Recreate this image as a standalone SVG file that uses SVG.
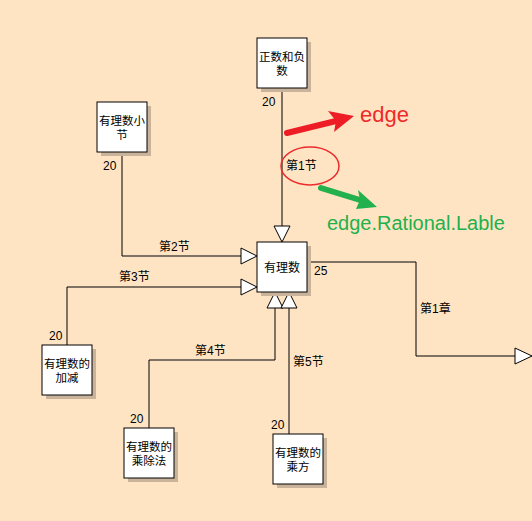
<svg xmlns="http://www.w3.org/2000/svg" width="532" height="521" viewBox="0 0 532 521">
<style>
.bg{fill:#FFE4C4}
.sh{fill:#C9B49B}
.box{fill:#fff;stroke:#000;stroke-width:1}
text{font-family:"Liberation Sans","Noto Sans CJK SC",sans-serif;font-size:12px;fill:#000}
.c{text-anchor:middle}
.n{font-size:11.5px}
.e{fill:none;stroke:#000;stroke-width:1}
.ah{fill:#fff;stroke:#000;stroke-width:1}
</style>
<rect class="bg" x="0" y="0" width="532" height="521"/>
<g id="connectors">
  <path class="e" d="M282,88 V226"/>
  <polygon class="ah" points="282,242 274,226 290,226"/>
  <text x="262" y="106">20</text>
  <text x="286" y="170">第1节</text>

  <path class="e" d="M122,152 V256 H241"/>
  <polygon class="ah" points="257,256 241,248 241,264"/>
  <text x="103" y="170">20</text>
  <text x="159" y="251">第2节</text>

  <path class="e" d="M67,345 V287 H241"/>
  <polygon class="ah" points="257,287 241,279 241,295"/>
  <text x="49" y="340">20</text>
  <text x="119" y="281">第3节</text>

  <path class="e" d="M149,428 V360 H275 V308"/>
  <polygon class="ah" points="275,292 267,308 283,308"/>
  <text x="130" y="423">20</text>
  <text x="195" y="355">第4节</text>

  <path class="e" d="M289,434 V308"/>
  <polygon class="ah" points="289,292 281,308 297,308"/>
  <text x="271" y="429">20</text>
  <text x="293" y="366">第5节</text>

  <path class="e" d="M307,262 H416 V356 H515"/>
  <polygon class="ah" points="532,356 515,348 515,364"/>
  <text x="314" y="275">25</text>
  <text x="420" y="313">第1章</text>
</g>
<g id="n1">
  <rect class="sh" x="261" y="42" width="50" height="50"/>
  <rect class="box" x="257" y="38" width="50" height="50"/>
  <text class="c n" x="282" y="61">正数和负</text>
  <text class="c n" x="282" y="75">数</text>
</g>
<g id="n2">
  <rect class="sh" x="101" y="106" width="50" height="50"/>
  <rect class="box" x="97" y="102" width="50" height="50"/>
  <text class="c n" x="122" y="125">有理数小</text>
  <text class="c n" x="122" y="139">节</text>
</g>
<g id="main">
  <rect class="sh" x="261" y="246" width="50" height="50"/>
  <rect class="box" x="257" y="242" width="50" height="50"/>
  <text class="c" x="282" y="272">有理数</text>
</g>
<g id="n3">
  <rect class="sh" x="46" y="349" width="50" height="50"/>
  <rect class="box" x="42" y="345" width="50" height="50"/>
  <text class="c n" x="67" y="368">有理数的</text>
  <text class="c n" x="67" y="382">加减</text>
</g>
<g id="n4">
  <rect class="sh" x="128" y="432" width="50" height="50"/>
  <rect class="box" x="124" y="428" width="50" height="50"/>
  <text class="c n" x="149" y="451">有理数的</text>
  <text class="c n" x="149" y="465">乘除法</text>
</g>
<g id="n5">
  <rect class="sh" x="277" y="438" width="50" height="50"/>
  <rect class="box" x="273" y="434" width="50" height="50"/>
  <text class="c n" x="298" y="457">有理数的</text>
  <text class="c n" x="298" y="471">乘方</text>
</g>
<g id="annotations">
  <ellipse cx="310" cy="166" rx="29" ry="19" fill="none" stroke="#EE2A2A" stroke-width="1.5"/>
  <path d="M287,133 L336,121" stroke="#EE1C24" stroke-width="6" fill="none" stroke-linecap="round"/>
  <polygon points="354,116 334,132 336,121 328,111" fill="#EE1C24"/>
  <text x="360" y="122" style="font-family:'Liberation Sans',sans-serif;font-size:22px;fill:#EE2A2A">edge</text>
  <path d="M321,188 L360,200" stroke="#22B14C" stroke-width="6" fill="none" stroke-linecap="round"/>
  <polygon points="377,207 356,209 360,200 358,190" fill="#22B14C"/>
  <text x="327" y="230" style="font-family:'Liberation Sans',sans-serif;font-size:20px;fill:#22B14C">edge.Rational.Lable</text>
</g>
</svg>
